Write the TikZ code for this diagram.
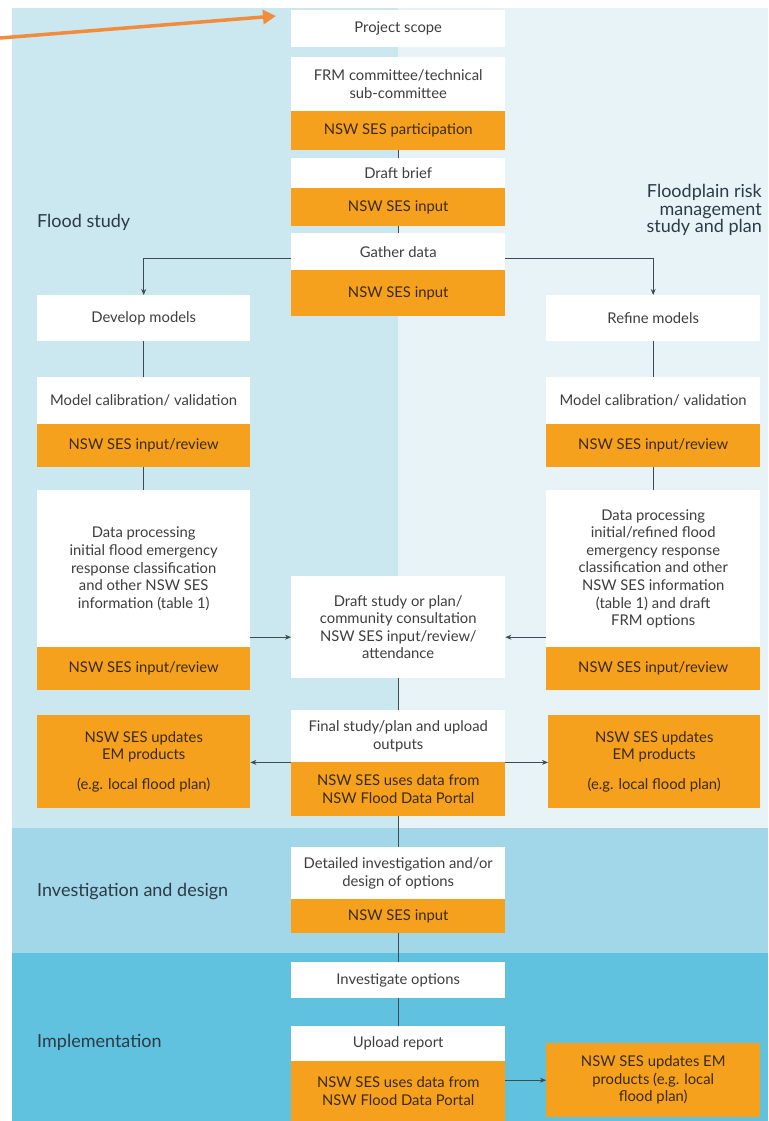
\documentclass[tikz,border=0pt]{standalone}
\usepackage{fontspec}
\setmainfont{Lato}
\usetikzlibrary{arrows.meta,calc}
\definecolor{bandL}{HTML}{CBE7F0}
\definecolor{bandR}{HTML}{E8F3F7}
\definecolor{bandI}{HTML}{A2D6E9}
\definecolor{bandM}{HTML}{60C2DF}
\definecolor{boxor}{HTML}{F6A11D}
\definecolor{txtw}{HTML}{3E3E3E}
\definecolor{txto}{HTML}{3A2A12}
\definecolor{linec}{HTML}{3F4B52}
\definecolor{arrowor}{HTML}{F08C3C}
\definecolor{headc}{HTML}{2C3B45}
\tikzset{
  base/.style={inner sep=0pt, anchor=north west, align=center, font=\fontsize{14.8}{17.6}\selectfont},
  wbox/.style={base, fill=white, text=txtw},
  obox/.style={base, fill=boxor, text=txto},
  cw/.style={minimum width=214pt},
  sw/.style={minimum width=213pt},
  conn/.style={draw=linec, line width=0.8pt},
  arr/.style={conn, -{Stealth[length=6pt,width=5pt]}},
  head/.style={inner sep=0pt, text=headc, font=\fontsize{18}{17.5}\selectfont},
  bigarrow/.style={draw=arrowor, line width=3.5pt, -{Triangle[length=13pt,width=14pt]}}
}
\begin{document}
\begin{tikzpicture}[x=1pt,y=-1pt]
\useasboundingbox (0,0) rectangle (768,1121);
% background bands
\fill[white] (0,0) rectangle (768,1121);
\fill[bandL] (12,8) rectangle (398,828);
\fill[bandR] (398,8) rectangle (768,828);
\fill[bandI] (12,828) rectangle (768,953);
\fill[bandM] (12,953) rectangle (768,1121);

% headings
\node[head, anchor=west] (hfs) at (37,222) {Flood study};
\node[head, anchor=east, align=right] (hfrm) at (762,210) {Floodplain risk\\management\\study and plan};
\node[head, anchor=west] (hid) at (37,892) {Investigation and design};
\node[head, anchor=west] (him) at (37,1042) {Implementation};

% centre column
\node[wbox, cw, minimum height=37pt] (ps) at (291,10) {Project scope};
\node[wbox, cw, minimum height=54pt] (frm) at (291,57) {FRM committee/technical\\sub-committee};
\node[obox, cw, minimum height=39pt] (frmo) at (291,111) {NSW SES participation};
\node[wbox, cw, minimum height=30pt] (db) at (291,158) {Draft brief};
\node[obox, cw, minimum height=38pt] (dbo) at (291,188) {NSW SES input};
\node[wbox, cw, minimum height=37pt] (gd) at (291,233) {Gather data};
\node[obox, cw, minimum height=46pt] (gdo) at (291,270) {NSW SES input};

% left column
\node[wbox, sw, minimum height=46pt] (dm) at (37,295) {Develop models};
\node[wbox, sw, minimum height=47pt] (mcl) at (37,377) {Model calibration/ validation};
\node[obox, sw, minimum height=43pt] (mclo) at (37,424) {NSW SES input/review};
\node[wbox, sw, minimum height=157pt] (dpl) at (37,490) {Data processing\\initial flood emergency\\response classification\\and other NSW SES\\information (table 1)};
\node[obox, sw, minimum height=43pt] (dplo) at (37,647) {NSW SES input/review};

% right column
\node[wbox, cw, minimum height=46pt] (rm) at (546,295) {Refine models};
\node[wbox, cw, minimum height=47pt] (mcr) at (546,377) {Model calibration/ validation};
\node[obox, cw, minimum height=43pt] (mcro) at (546,424) {NSW SES input/review};
\node[wbox, cw, minimum height=157pt] (dpr) at (546,490) {Data processing\\initial/refined flood\\emergency response\\classification and other\\NSW SES information\\(table 1) and draft\\FRM options};
\node[obox, cw, minimum height=43pt] (dpro) at (546,647) {NSW SES input/review};

% centre lower
\node[wbox, cw, minimum height=102pt] (ds) at (291,576) {Draft study or plan/\\community consultation\\NSW SES input/review/\\attendance};
\node[wbox, cw, minimum height=52pt] (fs) at (291,710) {Final study/plan and upload\\outputs};
\node[obox, cw, minimum height=54pt] (fso) at (291,762) {NSW SES uses data from\\NSW Flood Data Portal};
\node[obox, sw, minimum height=93pt] (eml) at (37,715) {NSW SES updates\\EM products\\[12pt](e.g. local flood plan)};
\node[obox, minimum width=212pt, minimum height=93pt] (emr) at (548,715) {NSW SES updates\\EM products\\[12pt](e.g. local flood plan)};
\node[wbox, cw, minimum height=52pt] (di) at (291,847) {Detailed investigation and/or\\design of options};
\node[obox, cw, minimum height=34pt] (dio) at (291,899) {NSW SES input};
\node[wbox, cw, minimum height=36pt] (io) at (291,962) {Investigate options};
\node[wbox, cw, minimum height=35pt] (ur) at (291,1026) {Upload report};
\node[obox, cw, minimum height=60pt] (uro) at (291,1061) {NSW SES uses data from\\NSW Flood Data Portal};
\node[obox, cw, minimum height=74pt] (emb) at (546,1043) {NSW SES updates EM\\products (e.g. local\\flood plan)};

% connectors
\draw[conn] (frmo.south) -- (db.north);
\draw[conn] (dbo.south) -- (gd.north);
\coordinate (gdl) at ([yshift=-25pt]gd.north west);
\coordinate (gdr) at ([yshift=-25pt]gd.north east);
\draw[arr] (gdl) -| (dm.north);
\draw[arr] (gdr) -| (rm.north);
\draw[conn] (dm.south) -- (mcl.north);
\draw[conn] (mclo.south) -- (dpl.north);
\draw[conn] (rm.south) -- (mcr.north);
\draw[conn] (mcro.south) -- (dpr.north);
\coordinate (dsl) at ([yshift=-10pt]ds.west);
\coordinate (dsr) at ([yshift=-10pt]ds.east);
\draw[arr] (dpl.east |- dsl) -- (dsl);
\draw[arr] (dpr.west |- dsr) -- (dsr);
\draw[conn] (ds.south) -- (fs.north);
\draw[arr] (fs.south west) -- (fs.south west -| eml.east);
\draw[arr] (fs.south east) -- (fs.south east -| emr.west);
\draw[conn] (fso.south) -- (di.north);
\draw[conn] (dio.south) -- (io.north);
\draw[conn] (io.south) -- (ur.north);
\draw[arr] (uro.east |- emb.west) -- (emb.west);

% orange pointer arrow
\coordinate (pa) at (0,38);
\coordinate (pb) at (276,16);
\draw[bigarrow] (pa) -- (pb);
\end{tikzpicture}
\end{document}
